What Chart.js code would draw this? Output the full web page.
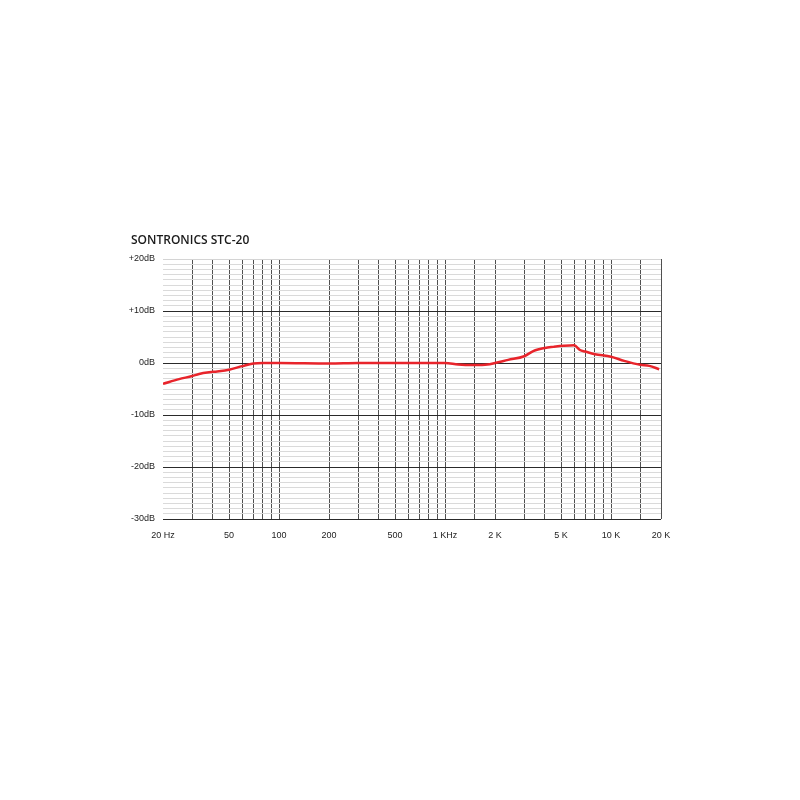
<!DOCTYPE html>
<html>
<head>
<meta charset="utf-8">
<script src="https://cdn.jsdelivr.net/npm/chart.js"></script>
<style>
    html, body { margin: 0; padding: 0; background: #ffffff; }
    #wrap { position: relative; width: 800px; height: 800px; }
</style>
</head>
<body>
<div id="wrap"><canvas id="fr-chart" width="800" height="800"></canvas></div>
<script>
    const TITLE = 'SONTRONICS STC-20';

    // frequency response (Hz / dB)
    const freqs = [20, 25, 30, 33, 40, 50, 60, 70, 80, 100, 200, 300, 500, 700, 1000, 1200, 1500, 1800, 2000, 2400, 3000, 3400, 4000, 4500, 5200, 6000, 6500, 7000, 8000, 10000, 12000, 15000, 17000, 19500];
    const levels = [-4.0, -3.1, -2.5, -2.1, -1.7, -1.3, -0.6, -0.1, 0, 0, -0.1, 0, 0, 0, 0, -0.3, -0.4, -0.3, 0, 0.6, 1.3, 2.3, 2.9, 3.1, 3.3, 3.4, 2.5, 2.2, 1.7, 1.2, 0.4, -0.35, -0.55, -1.2];

    // x grid lines and the ones that get a label
    const xGrid = [20, 30, 40, 50, 60, 70, 80, 90, 100, 200, 300, 400, 500, 600, 700, 800, 900, 1000, 1500, 2000, 3000, 4000, 5000, 6000, 7000, 8000, 9000, 10000, 15000, 20000];
    const xLabels = { 20: '20 Hz', 50: '50', 100: '100', 200: '200', 500: '500', 1000: '1 KHz', 2000: '2 K', 5000: '5 K', 10000: '10 K', 20000: '20 K' };
    const yLabels = { 20: '+20dB', 10: '+10dB', 0: '0dB', '-10': '-10dB', '-20': '-20dB', '-30': '-30dB' };

    const titlePlugin = {
        id: 'leftTitle',
        afterDraw(chart) {
            const ctx = chart.ctx;
            ctx.save();
            ctx.font = '600 12px "Open Sans", sans-serif';
            ctx.fillStyle = '#1a1a1a';
            ctx.textBaseline = 'alphabetic';
            ctx.fillText(TITLE, 131, 244);
            ctx.restore();
        }
    };

    new Chart(document.getElementById('fr-chart'), {
        type: 'line',
        data: {
            datasets: [{
                data: freqs.map((f, i) => ({ x: f, y: levels[i] })),
                borderColor: '#e8242b',
                borderWidth: 2.5,
                pointRadius: 0,
                cubicInterpolationMode: 'monotone',
                fill: false
            }]
        },
        options: {
            responsive: false,
            animation: false,
            layout: { padding: { top: 259, right: 139, bottom: 240, left: 0 } },
            plugins: {
                legend: { display: false },
                tooltip: { enabled: false }
            },
            scales: {
                x: {
                    type: 'logarithmic',
                    min: 20,
                    max: 20000,
                    afterBuildTicks: axis => { axis.ticks = xGrid.map(v => ({ value: v })); },
                    afterFit: axis => { axis.height = 41; },
                    border: { display: false },
                    grid: {
                        drawTicks: false,
                        lineWidth: 1,
                        color: ctx => ctx.index === 0 ? 'rgba(0,0,0,0)' : '#505050'
                    },
                    ticks: {
                        autoSkip: false,
                        maxRotation: 0,
                        padding: 11,
                        color: '#222',
                        font: { family: '"Liberation Sans", Arial, sans-serif', size: 9 },
                        callback: val => xLabels[val] || ''
                    }
                },
                y: {
                    min: -30,
                    max: 20,
                    afterBuildTicks: axis => {
                        const t = [];
                        for (let v = -30; v <= 20; v++) t.push({ value: v });
                        axis.ticks = t;
                    },
                    afterFit: axis => { axis.width = 163; },
                    border: { display: false },
                    grid: {
                        drawTicks: false,
                        lineWidth: 1,
                        color: ctx => {
                            const v = ctx.tick.value;
                            if (v === 20) return '#d4d4d4';
                            return v % 10 === 0 ? '#2a2a2a' : '#dadada';
                        }
                    },
                    ticks: {
                        autoSkip: false,
                        padding: 8,
                        color: '#222',
                        font: { family: '"Liberation Sans", Arial, sans-serif', size: 9 },
                        callback: val => yLabels[val] || ''
                    }
                }
            }
        },
        plugins: [titlePlugin]
    });
</script>
</body>
</html>
